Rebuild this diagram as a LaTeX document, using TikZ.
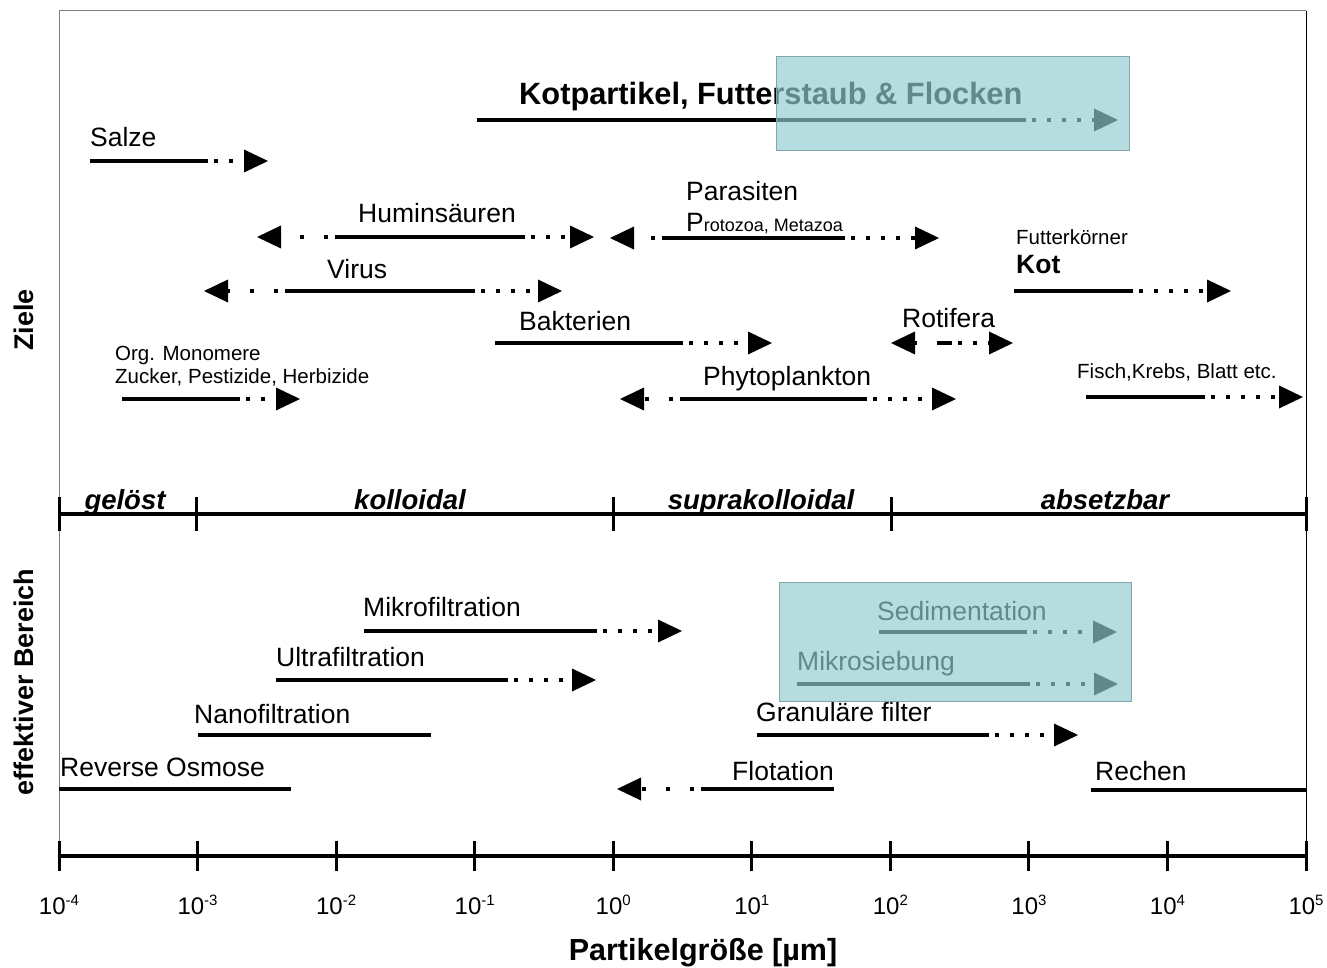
\documentclass[tikz,border=0pt]{standalone}
\usepackage{fontspec}
\setmainfont{Liberation Sans}
\usetikzlibrary{arrows.meta}
\providecommand{\grundtext}{\fontsize{26.5pt}{30pt}\selectfont}
\providecommand{\kleintext}{\fontsize{20.5pt}{24pt}\selectfont}
\providecommand{\achsentext}{\fontsize{24pt}{26pt}\selectfont}
\providecommand{\hoch}[1]{\raisebox{9pt}{\fontsize{15pt}{16pt}\selectfont #1}}
\definecolor{kastenblau}{RGB}{145,203,208}
\definecolor{kastenrand}{RGB}{128,165,170}

\begin{document}
\begin{tikzpicture}[x=1pt,y=-1pt,
    balken/.style={line width=3.5pt},
    punkte/.style={line width=4pt,dash pattern=on 4pt off 11pt,dash phase=9pt},
    punktelinks/.style={line width=4pt,dash pattern=on 4pt off 20pt,dash phase=17pt},
    spitze/.style={-{Triangle[length=24pt,width=23pt,line width=0pt]}},
    txt/.style={anchor=base west,inner sep=0pt,font=\grundtext},
    kleintxt/.style={anchor=base west,inner sep=0pt,font=\kleintext},
    bereich/.style={anchor=base,inner sep=0pt,font=\fontsize{27.5pt}{30pt}\selectfont\bfseries\itshape},
    kasten/.style={fill=kastenblau,fill opacity=0.67,draw=kastenrand,line width=1pt}]
    \useasboundingbox (0,0) rectangle (1327,968);
    % Rahmen
    \draw[gray,line width=1pt] (59,856) -- (59,11) -- (1306,11);
    \draw[line width=1pt] (1306,11) -- (1306,856);
    \node[rotate=90,font=\fontsize{27pt}{30pt}\selectfont\bfseries] (ziele) at (24,320) {Ziele};
    \node[rotate=90,font=\fontsize{27pt}{30pt}\selectfont\bfseries] (effbereich) at (24,682) {effektiver Bereich};

    % Ziele
    \node[txt,font=\fontsize{30.8pt}{34pt}\selectfont\bfseries] (kotpartikel) at (519,105) {Kotpartikel, Futterstaub \& Flocken};
    \draw[balken] (477,120) -- (1026,120);
    \draw[punkte,spitze] (1026,120) -- (1118,120);

    \node[txt] (salze) at (90,147) {Salze};
    \draw[balken] (90,161) -- (208,161);
    \draw[punkte,spitze] (208,161) -- (268,161);

    \node[txt] (humin) at (358,223) {Huminsäuren};
    \draw[punktelinks,spitze] (335,237) -- (257,237);
    \draw[balken] (335,237) -- (525,237);
    \draw[punkte,spitze] (525,237) -- (594,237);

    \node[txt] (parasiten) at (686,201) {Parasiten};
    \node[txt] (protozoa) at (686,232) {P{\fontsize{18pt}{20pt}\selectfont rotozoa, Metazoa}};
    \draw[punktelinks,spitze] (662,238) -- (610,238);
    \draw[balken] (662,238) -- (845,238);
    \draw[punkte,spitze] (845,238) -- (939,238);

    \node[txt] (virus) at (327,278) {Virus};
    \draw[punktelinks,spitze] (285,291) -- (204,291);
    \draw[balken] (285,291) -- (475,291);
    \draw[punkte,spitze] (475,291) -- (562,291);

    \node[kleintxt] (futter) at (1016,245) {Futterkörner};
    \node[txt,font=\grundtext\bfseries] (kot) at (1016,273) {Kot};
    \draw[balken] (1014,291) -- (1133,291);
    \draw[punkte,spitze] (1133,291) -- (1231,291);

    \node[txt] (bakterien) at (519,330) {Bakterien};
    \draw[balken] (495,343) -- (683,343);
    \draw[punkte,spitze] (683,343) -- (772,343);

    \node[txt] (rotifera) at (902,327) {Rotifera};
    \draw[punktelinks,dash phase=4pt,spitze] (937,343) -- (891,343);
    \draw[balken] (937,343) -- (952,343);
    \draw[punkte,spitze] (952,343) -- (1013,343);

    \node[kleintxt] (monomere) at (115,360) {Org. Monomere};
    \node[kleintxt] (zucker) at (115,383) {Zucker, Pestizide, Herbizide};
    \draw[balken] (122,399) -- (240,399);
    \draw[punkte,spitze] (240,399) -- (300,399);

    \node[txt] (phyto) at (703,385) {Phytoplankton};
    \draw[punktelinks,spitze] (680,399) -- (620,399);
    \draw[balken] (680,399) -- (867,399);
    \draw[punkte,spitze] (867,399) -- (956,399);

    \node[kleintxt] (fisch) at (1077,378) {Fisch,Krebs, Blatt etc.};
    \draw[balken] (1086,397) -- (1205,397);
    \draw[punkte,spitze] (1205,397) -- (1303,397);

    % Einteilung
    \draw[line width=4pt] (59,514) -- (1306,514);
    \foreach \x in {59,196,613,891,1306}
        \draw[line width=3pt] (\x,497) -- (\x,531);
    \node[bereich] (geloest) at (125,509) {gelöst};
    \node[bereich] (kolloidal) at (410,509) {kolloidal};
    \node[bereich] (supra) at (761,509) {suprakolloidal};
    \node[bereich] (absetzbar) at (1105,509) {absetzbar};

    % effektiver Bereich
    \node[txt] (mikrofil) at (363,616) {Mikrofiltration};
    \draw[balken] (364,631) -- (597,631);
    \draw[punkte,spitze] (597,631) -- (682,631);

    \node[txt] (ultrafil) at (276,666) {Ultrafiltration};
    \draw[balken] (276,680) -- (508,680);
    \draw[punkte,spitze] (508,680) -- (596,680);

    \node[txt] (nanofil) at (194,723) {Nanofiltration};
    \draw[balken] (198,735) -- (431,735);

    \node[txt] (osmose) at (60,776) {Reverse Osmose};
    \draw[balken] (59,789) -- (291,789);

    \node[txt] (sediment) at (877,620) {Sedimentation};
    \draw[balken] (879,632) -- (1027,632);
    \draw[punkte,spitze] (1027,632) -- (1117,632);

    \node[txt] (mikrosieb) at (797,670) {Mikrosiebung};
    \draw[balken] (797,684) -- (1030,684);
    \draw[punkte,spitze] (1030,684) -- (1118,684);

    \node[txt] (granulaer) at (756,721) {Granuläre filter};
    \draw[balken] (757,735) -- (989,735);
    \draw[punkte,spitze] (989,735) -- (1078,735);

    \node[txt] (flotation) at (732,780) {Flotation};
    \draw[punktelinks,spitze] (701,789) -- (617,789);
    \draw[balken] (701,789) -- (834,789);

    \node[txt] (rechen) at (1095,780) {Rechen};
    \draw[balken] (1091,790) -- (1306,790);

    % Achse
    \draw[line width=4pt] (59,856) -- (1306,856);
    \foreach \e [count=\i from 0] in {-4,...,5} {
        \pgfmathsetmacro{\xpos}{59+\i*138.56}
        \draw[line width=3pt] (\xpos,841) -- (\xpos,871);
        \node[anchor=base,inner sep=0pt,font=\achsentext] (exp\i) at (\xpos,914) {10\hoch{\e}};
    }
    \node[anchor=base,inner sep=0pt,font=\fontsize{30.5pt}{34pt}\selectfont\bfseries] (groesse) at (703,960) {Partikelgröße [µm]};

    % Kaesten
    \draw[kasten] (776,57) rectangle (1129,151);
    \draw[kasten] (779,582) rectangle (1131,701);
\end{tikzpicture}
\end{document}
